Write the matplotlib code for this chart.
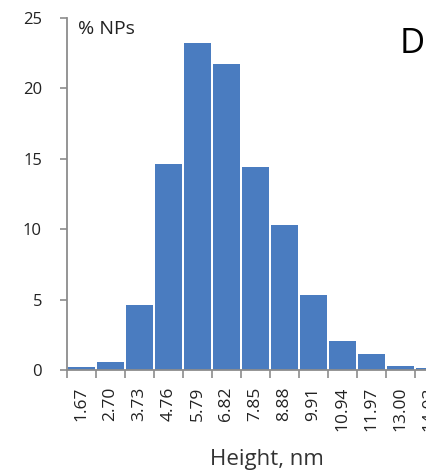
import matplotlib
matplotlib.use("Agg")
import matplotlib.pyplot as plt
import numpy as np

# ── 数据 ──
heights = ["1.67", "2.70", "3.73", "4.76", "5.79", "6.82", "7.85",
           "8.88", "9.91", "10.94", "11.97", "13.00", "14.03"]
pct_nps = [0.18, 0.57, 4.65, 14.6, 23.2, 21.7, 14.4,
           10.3, 5.3, 2.05, 1.13, 0.3, 0.15]
y_ticks = [0, 5, 10, 15, 20, 25]

plt.rcParams["font.family"] = ["Open Sans", "DejaVu Sans"]

W, H = 426, 472
fig = plt.figure(figsize=(W / 100, H / 100), dpi=100)
# 坐标轴右端超出画布（原图被裁切）
left, right, bottom, top = 67, 473, 370, 18
ax = fig.add_axes([left / W, 1 - bottom / H, (right - left) / W, (bottom - top) / H])

x = np.arange(len(heights))
ax.bar(x, pct_nps, width=0.92, color="#4a7cc0", zorder=2)

ax.set_xlim(-0.5, 13.5)
ax.set_ylim(0, 25)
ax.set_yticks(y_ticks)
ax.set_yticklabels([str(v) for v in y_ticks], fontsize=12, color="#222222")

ax.set_xticks(x)
ax.set_xticklabels(heights, rotation=90, fontsize=12.5, color="#222222")
ax.tick_params(axis="x", which="major", length=0, pad=12)
ax.set_xticks(np.arange(len(heights) + 1) - 0.5, minor=True)
ax.tick_params(axis="x", which="minor", length=6, color="#8c8c8c", width=1.2)
ax.tick_params(axis="y", length=5, color="#8c8c8c", width=1.2, pad=13)

for s in ["top", "right"]:
    ax.spines[s].set_visible(False)
for s in ["left", "bottom"]:
    ax.spines[s].set_color("#8c8c8c")
    ax.spines[s].set_linewidth(1.3)

fig.text(78 / W, 1 - 34 / H, "% NPs", fontsize=14, color="#222222", va="baseline")
fig.text(400 / W, 1 - 53 / H, "D", fontsize=25, color="black", va="baseline")
fig.text(267 / W, 1 - 465 / H, "Height, nm", fontsize=16, color="#333333",
         ha="center", va="baseline")

fig.savefig("out.png", dpi=100)
